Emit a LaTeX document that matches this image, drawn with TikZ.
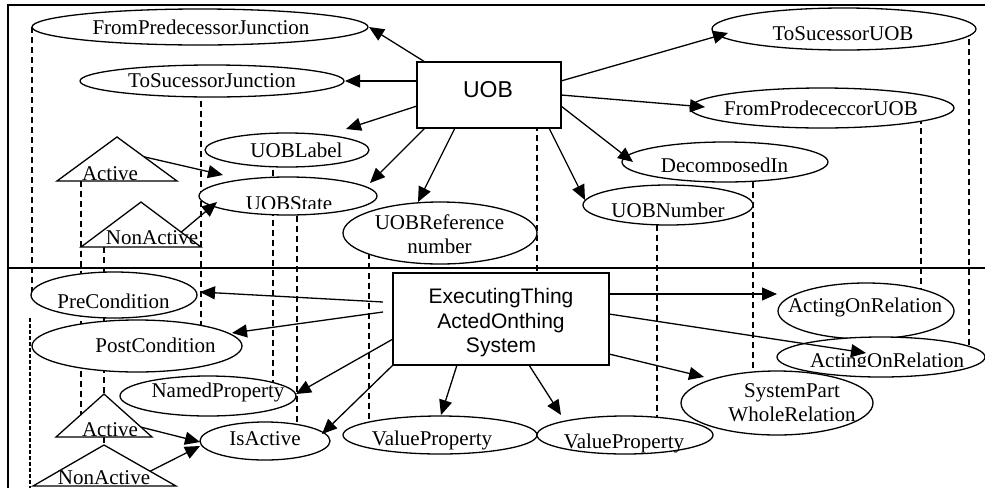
\documentclass[tikz,border=0pt]{standalone}
\usepackage{fontspec}
\setmainfont{Liberation Serif}
\newfontfamily\arialfont{Liberation Sans}
\usetikzlibrary{arrows.meta,calc,backgrounds,shapes.geometric}
\begin{document}
\begin{tikzpicture}[x=1pt,y=-1pt,
  ell/.style={draw,ellipse,fill=white,line width=1.3pt,inner sep=0pt,outer sep=0pt},
  boxn/.style={draw,rectangle,fill=white,line width=1.3pt,inner sep=0pt,outer sep=0pt},
  tri/.style={draw,fill=white,line width=1.3pt,line join=miter},
  lbl/.style={font=\fontsize{21}{24}\selectfont,inner sep=0pt,anchor=base},
  mlbl/.style={font=\fontsize{21}{24.5}\selectfont,inner sep=0pt,align=center},
  blbl/.style={font=\arialfont\fontsize{21}{24.5}\selectfont,inner sep=0pt,align=center},
  arr/.style={line width=1.3pt,-{Triangle[length=15pt,width=13pt]}},
  dline/.style={line width=1.1pt,dash pattern=on 6pt off 4pt},
  dline2/.style={line width=1.3pt,dash pattern=on 4pt off 2pt},
  framel/.style={line width=1.5pt}]
\useasboundingbox (0,0) rectangle (985,488);

% ---------- boxes ----------
\node[boxn,minimum width=144pt,minimum height=66pt] (uob) at (489,95) {};
\node[boxn,minimum width=216pt,minimum height=92pt] (exec) at (501,319) {};

% ---------- ellipses ----------
\node[ell,minimum width=336pt,minimum height=36pt] (fpj) at (200,27) {};
\node[ell,minimum width=264pt,minimum height=32pt] (tsj) at (212,81) {};
\node[ell,minimum width=264pt,minimum height=42pt] (tsu) at (844,29) {};
\node[ell,minimum width=264pt,minimum height=40pt] (fpu) at (822,108) {};
\node[ell,minimum width=206pt,minimum height=40pt] (dec) at (725,162) {};
\node[ell,minimum width=170pt,minimum height=40pt] (uobn) at (668,205) {};
\node[ell,minimum width=194pt,minimum height=62pt] (uobr) at (440,233) {};
\node[ell,minimum width=164pt,minimum height=34pt] (uobl) at (287,150) {};
\node[ell,minimum width=178pt,minimum height=38pt] (uobs) at (288,196) {};
\node[ell,minimum width=166pt,minimum height=46pt] (pre) at (114,295) {};
\node[ell,minimum width=210pt,minimum height=52pt] (post) at (137,346) {};
\node[ell,minimum width=176pt,minimum height=40pt] (named) at (208,396) {};
\node[ell,minimum width=130pt,minimum height=38pt] (isact) at (265,441) {};
\node[ell,minimum width=194pt,minimum height=38pt] (vp1) at (440,435) {};
\node[ell,minimum width=176pt,minimum height=38pt] (vp2) at (625,435) {};
\node[ell,minimum width=192pt,minimum height=64pt] (sys) at (777,403) {};
\node[ell,minimum width=176pt,minimum height=56pt] (aor1) at (866,311) {};
\node[ell,minimum width=208pt,minimum height=40pt] (aor2) at (881,357) {};

% ---------- triangles ----------
\coordinate (actT-t) at (117,137); \coordinate (actT-l) at (57,181); \coordinate (actT-r) at (177,181);
\coordinate (nactT-t) at (141,202); \coordinate (nactT-l) at (81,247); \coordinate (nactT-r) at (201,247);
\coordinate (actB-t) at (104,394); \coordinate (actB-l) at (56,437); \coordinate (actB-r) at (152,437);
\coordinate (nactB-t) at (104,445); \coordinate (nactB-l) at (33,486); \coordinate (nactB-r) at (176,486);
\draw[tri] (actT-t) -- (actT-r) -- (actT-l) -- cycle;
\draw[tri] (nactT-t) -- (nactT-r) -- (nactT-l) -- cycle;
\draw[tri] (actB-t) -- (actB-r) -- (actB-l) -- cycle;
\draw[tri] (nactB-t) -- (nactB-r) -- (nactB-l) -- cycle;

% ---------- frame and dashed lines (behind) ----------
\coordinate (dA) at (30,318);
\coordinate (dB) at (30,488);
\begin{pgfonlayer}{background}
\draw[framel] (985,5) -- (8,5) -- (8,488);
\draw[framel] (8,268) -- (985,268);
\draw[dline] (fpj.west) -- (fpj.west |- pre.center);
\draw[dline2] (dA) -- (dB);
\draw[dline] (nactT-l |- actT-l) -- ($(nactT-l)+(0,175)$);
\draw[dline] (nactB-t |- nactT-l) -- (nactB-t);
\draw[dline] (nactT-r |- tsj.center) -- (nactT-r |- post.center);
\draw[dline] ($(uobl.center)+(-14,0)$) -- ($(named.center)+(65,0)$);
\draw[dline] ($(uobs.center)+(9,0)$) -- ($(isact.center)+(32,0)$);
\draw[dline] ($(uobr.center)+(-71,0)$) -- ($(vp1.center)+(-71,0)$);
\draw[dline] ($(uob.center)+(48,0)$) -- ($(exec.center)+(36,0)$);
\draw[dline] ($(uobn.center)+(-11,0)$) -- ($(vp2.center)+(32,0)$);
\draw[dline] ($(dec.center)+(28,0)$) -- ($(sys.center)+(-24,0)$);
\draw[dline] ($(fpu.center)+(99,0)$) -- ($(aor1.center)+(55,0)$);
\draw[dline] ($(tsu.center)+(125,0)$) -- ($(aor2.center)+(88,0)$);
\end{pgfonlayer}

% ---------- texts ----------
\node[font=\arialfont\fontsize{23}{26}\selectfont,inner sep=0pt,anchor=base] (t-uob) at (488,97) {UOB};
\node[blbl] (t-exec) at (501,323) {ExecutingThing\\ActedOnthing\\System};
\node[lbl] (t-fpj) at (201,34) {FromPredecessorJunction};
\node[lbl] (t-tsj) at (212,87) {ToSucessorJunction};
\node[lbl] (t-tsu) at (843,40) {ToSucessorUOB};
\node[lbl] (t-fpu) at (821,115) {FromProdececcorUOB};
\begin{scope}
\clip (600,140) rectangle (800,171);
\node[lbl] (t-dec) at (724.5,172) {DecomposedIn};
\end{scope}
\node[lbl] (t-uobn) at (668,217) {UOBNumber};
\node[mlbl] (t-uobr) at (439.5,234) {UOBReference\\number};
\node[lbl] (t-uobl) at (296.5,157) {UOBLabel};
\begin{scope}
\clip (220,180) rectangle (360,208);
\node[lbl] (t-uobs) at (289,210) {UOBState};
\end{scope}
\node[lbl] (t-pre) at (113.5,308) {PreCondition};
\node[lbl] (t-post) at (155.5,352) {PostCondition};
\node[lbl] (t-named) at (218,397) {NamedProperty};
\node[lbl] (t-isact) at (265,445) {IsActive};
\node[lbl] (t-vp1) at (432,445) {ValueProperty};
\node[lbl] (t-vp2) at (624,448) {ValueProperty};
\node[mlbl] (t-sys) at (792,402.5) {SystemPart\\WholeRelation};
\node[lbl] (t-aor1) at (865,312) {ActingOnRelation};
\begin{scope}
\clip (790,340) rectangle (985,366);
\node[lbl] (t-aor2) at (887,367) {ActingOnRelation};
\end{scope}
\node[lbl] (t-actT) at (110,180) {Active};
\node[lbl] (t-nactT) at (152,244) {NonActive};
\node[lbl] (t-actB) at (110,436) {Active};
\node[lbl] (t-nactB) at (104,484) {NonActive};

% ---------- arrows ----------
\draw[arr] ($(uob.center)+(-64,-33)$) -- ($(fpj.center)+(169,0)$);
\draw[arr] ($(uob.center)+(-72,-14)$) -- ($(tsj.center)+(133,0)$);
\draw[arr] ($(uob.center)+(-72,11)$) -- ($(uobl.center)+(59,-21)$);
\draw[arr] ($(uob.center)+(-64,33)$) -- ($(uobs.center)+(82,-13)$);
\draw[arr] ($(uob.center)+(-34,33)$) -- ($(uobr.center)+(-22,-31)$);
\draw[arr] ($(uob.center)+(60,33)$) -- ($(uobn.center)+(-83,-5)$);
\draw[arr] ($(uob.center)+(72,11)$) -- ($(dec.center)+(-92,0)$);
\draw[arr] ($(uob.center)+(72,0)$) -- ($(fpu.center)+(-117,-1)$);
\draw[arr] ($(uob.center)+(72,-14)$) -- ($(tsu.center)+(-116,4)$);

\draw[arr] ($(actT-t)!0.45!(actT-r)$) -- ($(uobs.center)+(-65,-21)$);
\draw[arr] ($(nactT-t)!0.67!(nactT-r)$) -- ($(uobs.center)+(-71,6)$);

\draw[arr] ($(exec.center)+(-118,-17)$) -- ($(pre.center)+(86,-3)$);
\draw[arr] ($(exec.center)+(-118,-7)$) -- ($(post.center)+(95,-13)$);
\draw[arr] ($(exec.center)+(-108,20)$) -- ($(named.center)+(88,-2)$);
\draw[arr] ($(exec.center)+(-108,46)$) -- ($(isact.center)+(57,-7)$);
\draw[arr] ($(exec.center)+(-44,46)$) -- ($(vp1.center)+(1,-20)$);
\draw[arr] ($(exec.center)+(28,46)$) -- ($(vp2.center)+(-64,-20)$);
\draw[arr] ($(exec.center)+(108,35)$) -- ($(sys.center)+(-73,-26)$);
\draw[arr] ($(exec.center)+(108,-5)$) -- ($(aor2.center)+(-15,-4)$);
\draw[arr] ($(exec.center)+(108,-25)$) -- ($(aor1.center)+(-89,-17)$);

\draw[arr] ($(actB-t)!0.77!(actB-r)$) -- ($(isact.center)+(-65,1)$);
\draw[arr] ($(nactB-t)!0.64!(nactB-r)$) -- ($(isact.center)+(-65,5)$);
\end{tikzpicture}
\end{document}
